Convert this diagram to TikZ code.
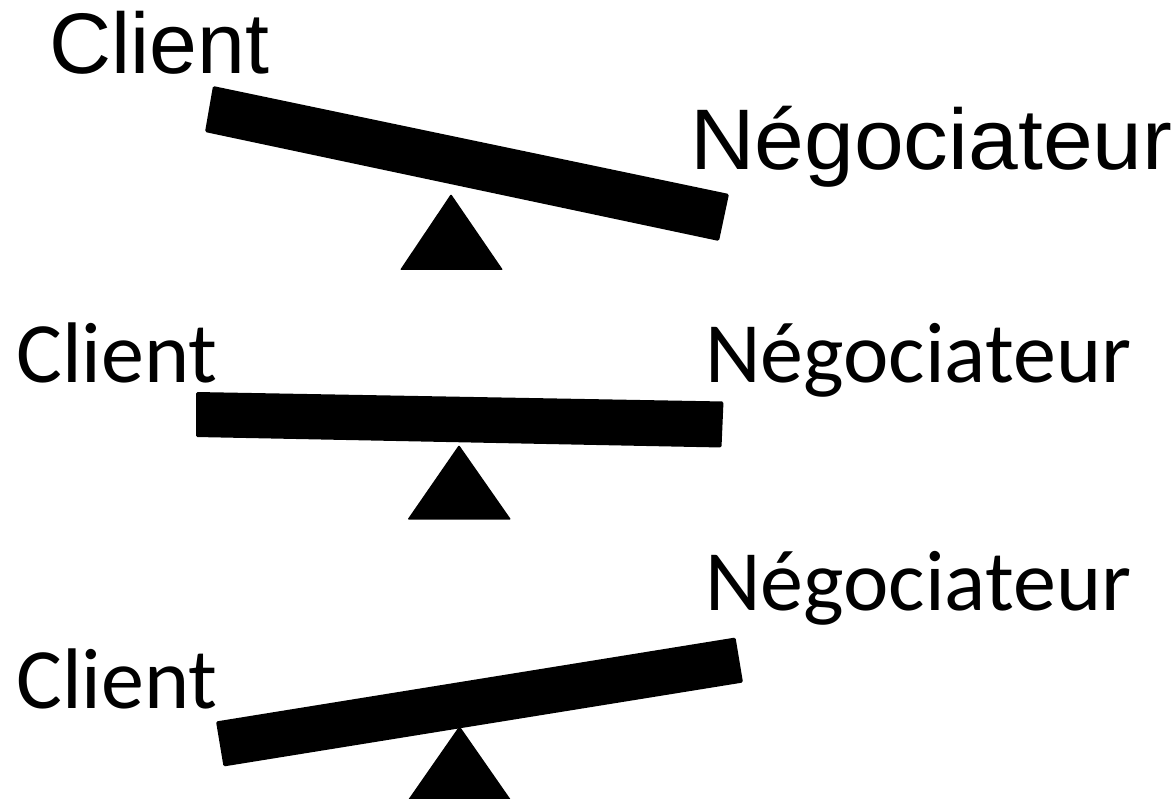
\documentclass[tikz,border=0pt]{standalone}
\usepackage{fontspec}
\newfontfamily\arialfont{Liberation Sans}
\newfontfamily\arialwide[FakeStretch=1.04]{Liberation Sans}
\newfontfamily\calibrifont{Carlito}
\tikzset{
  plank/.style={fill=black, rounded corners=1.5pt},
  pivot/.style={fill=black, rounded corners=1pt},
  lbl/.style={anchor=base west, inner sep=0pt, font=\fontsize{86}{86}\selectfont}
}
\begin{document}
\begin{tikzpicture}[x=1pt,y=-1pt]
  \useasboundingbox (0,0) rectangle (1172,799);
  \clip (0,0) rectangle (1172,799);
        \node[lbl] (clientA) at (49,74) {\arialfont Client};
        \node[lbl] (negoA) at (690,170) {\arialwide Négociateur};
        \fill[plank] (213,86) -- (729,194) -- (719,241) -- (205,132) -- cycle;
        \fill[pivot] (451,194) -- (503,270) -- (400,270) -- cycle;

        \node[lbl] (clientB) at (16,382.5) {\calibrifont Client};
        \node[lbl] (negoB) at (705,382.5) {\calibrifont Négociateur};
        \fill[plank] (196,392) -- (723.5,401.5) -- (721.5,447.5) -- (196,437) -- cycle;
        \fill[pivot] (459,445) -- (511,519.5) -- (407.5,519.5) -- cycle;

        \node[lbl] (clientC) at (16,708) {\calibrifont Client};
        \node[lbl] (negoC) at (705,610) {\calibrifont Négociateur};
        \fill[plank] (216,721.5) -- (735.5,637.5) -- (743,682.5) -- (223.5,766.5) -- cycle;
        \fill[pivot] (459.5,726) -- (511,800) -- (408,800) -- cycle;
\end{tikzpicture}
\end{document}
